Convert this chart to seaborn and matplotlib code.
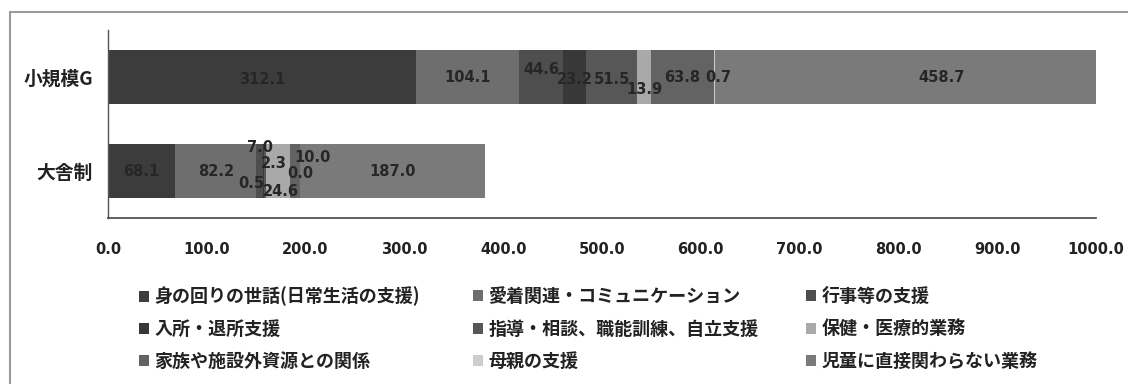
import matplotlib
matplotlib.use("Agg")
import matplotlib.pyplot as plt
import matplotlib.patches as mpatches
import numpy as np
import pandas as pd
import seaborn as sns

# ---------------- data ----------------
groups = ["小規模G", "大舎制"]
categories = [
    "身の回りの世話(日常生活の支援)",
    "愛着関連・コミュニケーション",
    "行事等の支援",
    "入所・退所支援",
    "指導・相談、職能訓練、自立支援",
    "保健・医療的業務",
    "家族や施設外資源との関係",
    "母親の支援",
    "児童に直接関わらない業務",
]
small_group = [312.1, 104.1, 44.6, 23.2, 51.5, 13.9, 63.8, 0.7, 458.7]
large_dorm = [68.1, 82.2, 7.0, 0.5, 2.3, 24.6, 10.0, 0.0, 187.0]
x_ticks = [0, 100, 200, 300, 400, 500, 600, 700, 800, 900, 1000]

# ---------------- style ----------------
colors = ["#3c3c3c", "#6e6e6e", "#4e4e4e", "#383838", "#575757",
          "#a9a9a9", "#636363", "#cdcdcd", "#7a7a7a"]
# label offsets in pixels (dx right, dy down) to mimic the original placement
offsets_small = [(0, 2), (0, 1), (0, -7), (0, 3), (0, 2), (0, 13), (0, 1), (4, 1), (0, 1)]
offsets_large = [(0, 1), (0, 1), (0, -23), (-12, 12), (9, -8), (3, 21), (17, -14), (0, 2), (0, 1)]

sns.set_theme(style="white")
plt.rcParams["font.family"] = ["Noto Sans CJK JP", "DejaVu Sans"]

W, H = 1128, 384
fig = plt.figure(figsize=(W / 100, H / 100), dpi=100)
fig.patch.set_facecolor("white")
ax = fig.add_axes([108 / W, 1 - 218 / H, (1096 - 108) / W, (218 - 30) / H])

values = np.array([small_group, large_dorm])  # shape (2, 9)
cums = np.cumsum(values, axis=1)

# stacked bars: draw cumulative totals from last to first
for i in range(len(categories) - 1, -1, -1):
    df = pd.DataFrame({"group": groups, "value": cums[:, i]})
    sns.barplot(data=df, x="value", y="group", orient="h", color=colors[i],
                saturation=1, width=0.57, linewidth=0, ax=ax)

# data labels
for g, offs in enumerate([offsets_small, offsets_large]):
    for i in range(len(categories)):
        v = values[g, i]
        center = cums[g, i] - v / 2
        dx, dy = offs[i]
        ax.annotate(f"{v:.1f}", xy=(center, g), xytext=(dx, -dy),
                    textcoords="offset pixels", ha="center", va="center",
                    fontsize=10.5, fontweight="bold", color="#262626",
                    family=["DejaVu Sans"], annotation_clip=False)

ax.set_xlim(0, 1000)
ax.set_xticks(x_ticks)
ax.set_xticklabels([f"{t:.1f}" for t in x_ticks], fontsize=10.5, fontweight="bold",
                   color="#222222", family=["DejaVu Sans"])
ax.set_yticks(range(len(groups)))
ax.set_yticklabels(groups, fontsize=13.5, fontweight="bold", color="#222222")
ax.tick_params(axis="x", length=0, pad=17)
ax.tick_params(axis="y", length=0, pad=11)
ax.set_xlabel("")
ax.set_ylabel("")
for s in ["top", "right"]:
    ax.spines[s].set_visible(False)
ax.spines["left"].set_color("#555555")
ax.spines["bottom"].set_color("#444444")
ax.spines["left"].set_linewidth(1.0)
ax.spines["bottom"].set_linewidth(1.2)

# legend: three columns, row-major order
handles = [mpatches.Patch(facecolor=c, edgecolor="none") for c in colors]
col_x = [139, 473, 806]
for c in range(3):
    idx = [c, c + 3, c + 6]
    fig.legend([handles[k] for k in idx], [categories[k] for k in idx],
               loc="center left", bbox_to_anchor=(col_x[c] / W, 1 - 329 / H),
               frameon=False, borderpad=0, borderaxespad=0,
               handlelength=0.55, handleheight=0.55, handletextpad=0.3,
               labelspacing=0.74,
               prop={"size": 13, "weight": "bold",
                     "family": ["Noto Sans CJK JP", "DejaVu Sans"]},
               labelcolor="#222222")

# outer chart frame (runs off the right and bottom edges)
frame = mpatches.Rectangle((10 / W, -0.1), 1.2, 1 - 12 / H + 0.1,
                           transform=fig.transFigure, fill=False,
                           edgecolor="#9a9a9a", linewidth=1.5, clip_on=False)
fig.patches.append(frame)

fig.savefig("out.png", dpi=100, facecolor="white")
